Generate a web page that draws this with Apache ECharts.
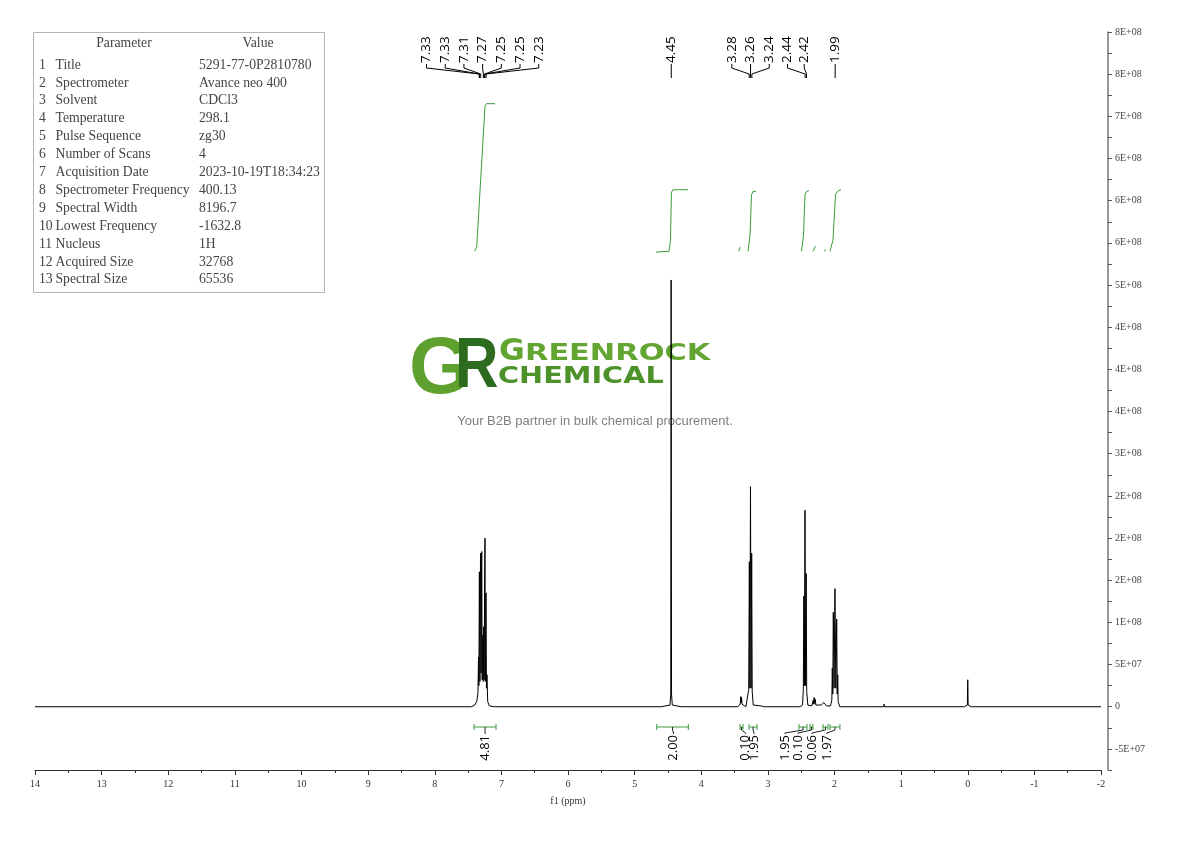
<!DOCTYPE html>
<html><head><meta charset="utf-8">
<script src="https://cdn.jsdelivr.net/npm/echarts@6/dist/echarts.min.js"></script>
<style>html,body{margin:0;padding:0;background:#fff}#c{width:1190px;height:841px}</style>
</head><body><div id="c"></div>
<script>
// ---------------- DATA ----------------
// spectrum pieces: [ppm, intensity]
const specBaseLeft = [[14.0,0],[12.5,0],[9.0,0],[7.45,0]];
const specAromatic = [[7.40,2e6],[7.37,6e6],[7.352,1.6e7],[7.343,5.9e7],[7.338,2.5e7],[7.330,1.60e8],[7.322,3.0e7],[7.313,1.82e8],[7.305,4.0e7],[7.295,1.84e8],[7.288,3.2e7],[7.278,8.5e7],[7.272,3.0e7],[7.265,9.5e7],[7.258,3.2e7],[7.250,1.72e8],[7.246,2.00e8],[7.240,3.0e7],[7.231,1.35e8],[7.224,2.2e7],[7.216,3.8e7],[7.205,6e6],[7.18,1e6],[7.10,0]];
const spec445 = [[4.60,0],[4.47,2e6],[4.458,1.5e7],[4.452,5.06e8],[4.446,1.5e7],[4.435,2e6],[4.30,0]];
const spec340 = [[3.45,0],[3.415,3e6],[3.407,1.2e7],[3.401,5e6],[3.395,1.1e7],[3.388,3e6],[3.33,0]];
const spec326 = [[3.30,2e6],[3.288,2e7],[3.278,1.72e8],[3.270,2.2e7],[3.261,2.61e8],[3.252,2.2e7],[3.243,1.82e8],[3.235,1.8e7],[3.22,2e6],[3.10,1e6],[3.07,3e6],[3.05,0]];
const spec244 = [[2.52,0],[2.48,2e6],[2.468,2e7],[2.460,1.31e8],[2.452,2.5e7],[2.443,2.33e8],[2.434,2.5e7],[2.425,1.58e8],[2.417,1.8e7],[2.40,2e6]];
const specSmall = [[2.34,1e6],[2.318,8e6],[2.312,3e6],[2.305,1.1e7],[2.298,4e6],[2.29,9e6],[2.28,2e6],[2.20,2e6],[2.16,5e6],[2.153,6e6],[2.146,4e6],[2.12,1e6]];
const spec199 = [[2.06,1e6],[2.040,8e6],[2.033,4.6e7],[2.026,1.5e7],[2.018,1.12e8],[2.006,2.2e7],[1.993,1.40e8],[1.980,2.2e7],[1.967,1.04e8],[1.959,1.5e7],[1.952,3.8e7],[1.945,6e6],[1.92,0]];
const specBaseRight = [[1.50,0],[1.26,0],[1.255,3e6],[1.25,0],[0.05,0],[0.006,2e6],[0.0,3.2e7],[-0.006,2e6],[-0.05,0],[-2.0,0]];

// integral curves: [ppm, value]
const integralCurves = [
  [[7.403,5.40e8],[7.37,5.45e8],[7.246,7.12e8],[7.225,7.15e8],[7.096,7.15e8]],
  [[4.679,5.39e8],[4.484,5.40e8],[4.462,5.53e8],[4.447,6.10e8],[4.424,6.13e8],[4.199,6.13e8]],
  [[3.441,5.40e8],[3.411,5.45e8]],
  [[3.298,5.40e8],[3.268,5.59e8],[3.246,6.07e8],[3.223,6.11e8],[3.178,6.11e8]],
  [[2.495,5.40e8],[2.465,5.59e8],[2.443,6.07e8],[2.420,6.11e8],[2.383,6.12e8]],
  [[2.323,5.40e8],[2.285,5.46e8]],
  [[2.158,5.40e8],[2.128,5.42e8]],
  [[2.068,5.40e8],[2.023,5.53e8],[1.985,6.07e8],[1.955,6.11e8],[1.903,6.13e8]]
];
// integration regions
const intFrom  = [7.41, 4.668, 3.418, 3.283, 2.533, 2.368, 2.173, 2.068];
const intTo    = [7.08, 4.194, 3.373, 3.163, 2.413, 2.323, 2.098, 1.918];
const intValue = ['4.81','2.00','0.10','1.95','1.95','0.10','0.06','1.97'];

// peak picking labels
const peakPpm = [7.33,7.33,7.31,7.27,7.25,7.25,7.23,4.45,3.28,3.26,3.24,2.44,2.42,1.99];

// axis ticks
const yTickValues = [-5e7,0,5e7,1e8,1.5e8,2e8,2.5e8,3e8,3.5e8,4e8,4.5e8,5e8,5.5e8,6e8,6.5e8,7e8,7.5e8,8e8];
const yTickLabels = ['-5E+07','0','5E+07','1E+08','2E+08','2E+08','2E+08','3E+08','4E+08','4E+08','4E+08','5E+08','6E+08','6E+08','6E+08','7E+08','8E+08','8E+08'];

// parameter table
const paramNames = ['Title','Spectrometer','Solvent','Temperature','Pulse Sequence','Number of Scans','Acquisition Date','Spectrometer Frequency','Spectral Width','Lowest Frequency','Nucleus','Acquired Size','Spectral Size'];
const paramValues = ['5291-77-0P2810780','Avance neo 400','CDCl3','298.1','zg30','4','2023-10-19T18:34:23','400.13','8196.7','-1632.8','1H','32768','65536'];

// ---------------- LAYOUT / STYLE ----------------
const LAYOUT = {
  peakLabelBottom: 63, peakGap: 18.7,
  bracketY: 727, intLabelTop: 735,
  intLabelDx: [0, 1, 4, 1, -18, -13.5, -13.5, -8],
  peakLabelDx: [0,0,0,0,0,0,0,0,0,0,0,-9,-11,0]
};
const GREEN = '#3d9b3d';
const SERIF = '"Liberation Serif", "DejaVu Serif", serif';
const SANS = '"Open Sans", "Noto Sans", sans-serif';

const spectrum = [].concat(specBaseLeft, specAromatic, spec445, spec340, spec326, spec244, specSmall, spec199, specBaseRight);

const chart = echarts.init(document.getElementById('c'), null, {renderer: 'canvas'});

const series = [{
  type: 'line', data: spectrum, showSymbol: false, symbol: 'none',
  lineStyle: {color: '#000', width: 1}, z: 5, silent: true
}];
integralCurves.forEach(c => series.push({
  type: 'line', data: c, showSymbol: false, symbol: 'none',
  lineStyle: {color: GREEN, width: 1}, z: 4, silent: true
}));

chart.setOption({
  animation: false,
  backgroundColor: '#fff',
  grid: {left: 35, right: 89, top: 32, bottom: 71},
  xAxis: {
    type: 'value', inverse: true, min: -2, max: 14, interval: 1,
    name: 'f1 (ppm)', nameLocation: 'middle', nameGap: 26,
    nameTextStyle: {fontFamily: SERIF, fontSize: 10, color: '#333'},
    axisLine: {show: true, onZero: false, lineStyle: {color: '#333', width: 1}},
    axisTick: {show: true, length: 5, lineStyle: {color: '#333'}},
    minorTick: {show: true, splitNumber: 2, length: 3, lineStyle: {color: '#333'}},
    axisLabel: {fontFamily: SERIF, fontSize: 10, color: '#333', margin: 9},
    splitLine: {show: false}
  },
  yAxis: {
    type: 'value', position: 'right', offset: 7, min: -7.5e7, max: 8e8, interval: 2.5e7,
    axisLine: {show: true, onZero: false, lineStyle: {color: '#777', width: 1.5}},
    axisTick: {show: true, length: 4, lineStyle: {color: '#555'}},
    axisLabel: {
      fontFamily: SERIF, fontSize: 10, color: '#444', margin: 7, showMinLabel: true, showMaxLabel: true,
      formatter: v => {
        const i = yTickValues.findIndex(t => Math.abs(t - v) < 1);
        return i >= 0 ? yTickLabels[i] : '';
      }
    },
    splitLine: {show: false}
  },
  series: series
});

// ---------------- ANNOTATIONS ----------------
function px(ppm, val) { return chart.convertToPixel({gridIndex: 0}, [ppm, val]); }

function spread(xs, gap) {
  let groups = xs.map(x => ({n: 1, sum: x}));
  let changed = true;
  while (changed) {
    changed = false;
    for (let k = 0; k < groups.length - 1; k++) {
      const a = groups[k], b = groups[k + 1];
      const aEnd = a.sum / a.n + (a.n - 1) * gap / 2;
      const bStart = b.sum / b.n - (b.n - 1) * gap / 2;
      if (bStart - aEnd < gap) { a.n += b.n; a.sum += b.sum; groups.splice(k + 1, 1); changed = true; break; }
    }
  }
  const out = [];
  groups.forEach(g => { const c = g.sum / g.n; for (let j = 0; j < g.n; j++) out.push(c + (j - (g.n - 1) / 2) * gap); });
  return out;
}

const gfx = [];

// parameter table
const TF = '13.7px ' + SERIF;
gfx.push({type: 'rect', shape: {x: 33.5, y: 32.5, width: 291, height: 260}, style: {fill: 'none', stroke: '#b4b4b4', lineWidth: 1}, z: 10});
gfx.push({type: 'text', x: 124, y: 43, style: {text: 'Parameter', font: TF, fill: '#444', align: 'center', verticalAlign: 'middle'}, z: 10});
gfx.push({type: 'text', x: 258, y: 43, style: {text: 'Value', font: TF, fill: '#444', align: 'center', verticalAlign: 'middle'}, z: 10});
paramNames.forEach((n, i) => {
  const y = 65 + i * 17.9;
  gfx.push({type: 'text', x: 39, y: y, style: {text: String(i + 1), font: TF, fill: '#444', align: 'left', verticalAlign: 'middle'}, z: 10});
  gfx.push({type: 'text', x: 55.5, y: y, style: {text: n, font: TF, fill: '#444', align: 'left', verticalAlign: 'middle'}, z: 10});
  gfx.push({type: 'text', x: 199, y: y, style: {text: paramValues[i], font: TF, fill: '#444', align: 'left', verticalAlign: 'middle'}, z: 10});
});

// logo watermark
gfx.push({type: 'text', x: 409, y: 371, style: {text: 'G', font: 'bold 80px "Liberation Sans", Arial, sans-serif', fill: '#5ea12f', align: 'left', verticalAlign: 'middle'}, z: 0});
gfx.push({type: 'text', x: 455, y: 368, scaleX: 0.86, style: {text: 'R', font: 'bold 70px "Liberation Sans", Arial, sans-serif', fill: '#2d6b1f', align: 'left', verticalAlign: 'middle'}, z: 0});
gfx.push({type: 'text', x: 499, y: 352, scaleX: 1.05, style: {text: 'G', font: 'bold 30px "DejaVu Sans", sans-serif', fill: '#62a531', align: 'left', verticalAlign: 'middle'}, z: 0});
gfx.push({type: 'text', x: 525, y: 354, scaleX: 1.32, style: {text: 'REENROCK', font: 'bold 23px "DejaVu Sans", sans-serif', fill: '#62a531', align: 'left', verticalAlign: 'middle'}, z: 0});
gfx.push({type: 'text', x: 498, y: 377, scaleX: 1.25, style: {text: 'CHEMICAL', font: 'bold 23px "DejaVu Sans", sans-serif', fill: '#4d9229', align: 'left', verticalAlign: 'middle'}, z: 0});
gfx.push({type: 'text', x: 595, y: 421, style: {text: 'Your B2B partner in bulk chemical procurement.', font: '13px "Liberation Sans", Arial, sans-serif', fill: '#808080', align: 'center', verticalAlign: 'middle'}, z: 0});

// peak labels
const peakX = peakPpm.map(p => px(p, 0)[0]);
const labX = spread(peakX, LAYOUT.peakGap).map((x, i) => x + LAYOUT.peakLabelDx[i]);
const pb = LAYOUT.peakLabelBottom;
peakPpm.forEach((p, i) => {
  gfx.push({type: 'text', x: labX[i], y: pb, rotation: Math.PI / 2,
    style: {text: p.toFixed(2), font: '13.5px ' + SANS, fill: '#000', align: 'left', verticalAlign: 'middle'}, z: 10});
  gfx.push({type: 'polyline', shape: {points: [[labX[i], pb + 1], [labX[i], pb + 5], [peakX[i], pb + 11], [peakX[i], pb + 15]]},
    style: {stroke: '#000', lineWidth: 1, fill: null}, z: 10});
});

// integration brackets + labels
const by = LAYOUT.bracketY;
intValue.forEach((v, i) => {
  const x1 = px(intFrom[i], 0)[0], x2 = px(intTo[i], 0)[0];
  const cx = (x1 + x2) / 2, lx = cx + LAYOUT.intLabelDx[i];
  gfx.push({type: 'line', shape: {x1: x1, y1: by, x2: x2, y2: by}, style: {stroke: GREEN, lineWidth: 1}, z: 10});
  gfx.push({type: 'line', shape: {x1: x1, y1: by - 3, x2: x1, y2: by + 3}, style: {stroke: GREEN, lineWidth: 1}, z: 10});
  gfx.push({type: 'line', shape: {x1: x2, y1: by - 3, x2: x2, y2: by + 3}, style: {stroke: GREEN, lineWidth: 1}, z: 10});
  gfx.push({type: 'polyline', shape: {points: [[cx, by], [cx, by + 3], [lx, by + 6], [lx, LAYOUT.intLabelTop - 1]]},
    style: {stroke: '#222', lineWidth: 1, fill: null}, z: 10});
  gfx.push({type: 'text', x: lx, y: LAYOUT.intLabelTop, rotation: Math.PI / 2,
    style: {text: v, font: '13px ' + SANS, fill: '#000', align: 'right', verticalAlign: 'middle'}, z: 10});
});

chart.setOption({graphic: {elements: gfx}});
</script>
</body></html>
